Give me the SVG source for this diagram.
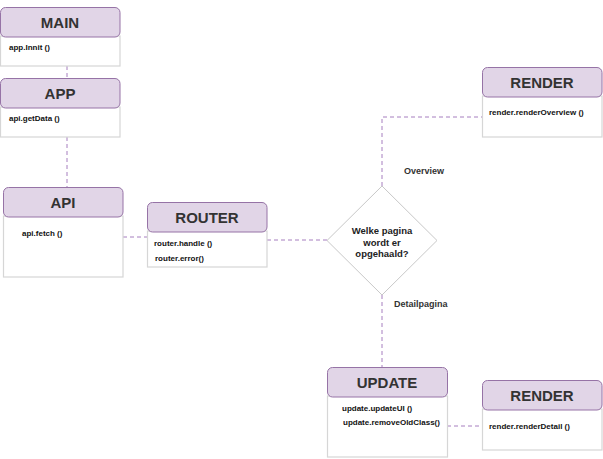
<svg xmlns="http://www.w3.org/2000/svg" width="603" height="459" viewBox="0 0 603 459">
<style>
.hd{fill:#e1d5e7;stroke:#9673a6;stroke-width:1}
.bd{fill:#ffffff;stroke:#d6d6d6;stroke-width:1.2}
.ht{font-family:"Liberation Sans",Arial,sans-serif;font-weight:bold;font-size:15px;fill:#333333;text-anchor:middle}
.bt{font-family:"Liberation Sans",Arial,sans-serif;font-weight:bold;font-size:8px;fill:#111111}
.lt{font-family:"Liberation Sans",Arial,sans-serif;font-weight:bold;font-size:9px;fill:#333333}
.dt{font-family:"Liberation Sans",Arial,sans-serif;font-weight:bold;font-size:9.5px;fill:#222222;text-anchor:middle}
.cn{fill:none;stroke:#a67fbf;stroke-width:1;stroke-dasharray:4 3}
</style>
<rect width="603" height="459" fill="#ffffff"/>
<g id="connectors">
<path class="cn" d="M67 66 V78"/>
<path class="cn" d="M67 137 V187"/>
<path class="cn" d="M123 237 H147"/>
<path class="cn" d="M267 240 H327"/>
<path class="cn" d="M382 186 V117 H482"/>
<path class="cn" d="M382 295 V367"/>
<path class="cn" d="M447 426 H482"/>
</g>
<g id="main">
<rect class="bd" x="0.5" y="36" width="119.5" height="30"/>
<rect class="hd" x="0.5" y="7.5" width="119.5" height="29.5" rx="5"/>
<text class="ht" x="60" y="28">MAIN</text>
<text class="bt" x="9" y="50">app.Innit ()</text>
</g>
<g id="app">
<rect class="bd" x="0.5" y="107" width="119.5" height="30"/>
<rect class="hd" x="0.5" y="78.5" width="119.5" height="29.5" rx="5"/>
<text class="ht" x="60" y="99">APP</text>
<text class="bt" x="9" y="121">api.getData ()</text>
</g>
<g id="api">
<rect class="bd" x="3.5" y="216" width="119.5" height="61"/>
<rect class="hd" x="3.5" y="187.5" width="119.5" height="29.5" rx="5"/>
<text class="ht" x="63" y="208">API</text>
<text class="bt" x="22" y="236">api.fetch ()</text>
</g>
<g id="router">
<rect class="bd" x="147.5" y="231" width="119.5" height="36"/>
<rect class="hd" x="147.5" y="202.5" width="119.5" height="29.5" rx="5"/>
<text class="ht" x="207" y="223">ROUTER</text>
<text class="bt" x="154" y="246">router.handle ()</text>
<text class="bt" x="155" y="261">router.error()</text>
</g>
<g id="decision">
<polygon points="382,186 437,240.5 382,295 327,240.5" fill="#ffffff" stroke="#c8c8c8" stroke-width="1"/>
<text class="dt" x="382" y="234">Welke pagina</text>
<text class="dt" x="382" y="245.5">wordt er</text>
<text class="dt" x="382" y="257">opgehaald?</text>
</g>
<g id="render-overview">
<rect class="bd" x="482.5" y="96" width="119.5" height="41"/>
<rect class="hd" x="482.5" y="67.5" width="119.5" height="29.5" rx="5"/>
<text class="ht" x="542" y="88">RENDER</text>
<text class="bt" x="489" y="115">render.renderOverview ()</text>
</g>
<g id="update">
<rect class="bd" x="327.5" y="396" width="120" height="61"/>
<rect class="hd" x="327.5" y="367.5" width="120" height="29.5" rx="5"/>
<text class="ht" x="387" y="388">UPDATE</text>
<text class="bt" x="342" y="411">update.updateUI ()</text>
<text class="bt" x="343" y="425">update.removeOldClass()</text>
</g>
<g id="render-detail">
<rect class="bd" x="482.5" y="409" width="119.5" height="41"/>
<rect class="hd" x="482.5" y="380.5" width="119.5" height="29.5" rx="5"/>
<text class="ht" x="542" y="401">RENDER</text>
<text class="bt" x="489" y="429">render.renderDetail ()</text>
</g>
<g id="labels">
<text class="lt" x="404" y="174">Overview</text>
<text class="lt" x="394" y="307">Detailpagina</text>
</g>
</svg>
